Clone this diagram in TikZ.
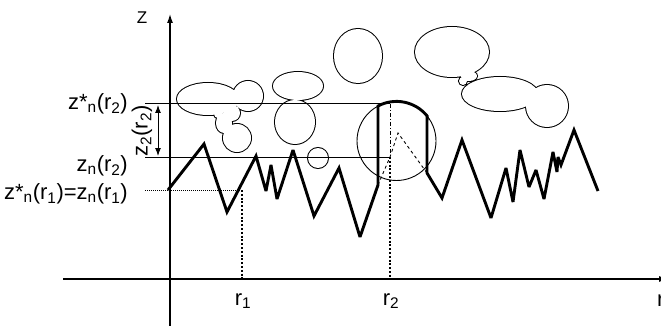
\documentclass[tikz,border=0pt]{standalone}
\usepackage{fontspec}
\setmainfont{Liberation Sans}
\usetikzlibrary{arrows.meta}

\begin{document}
\begin{tikzpicture}[x=1pt,y=-1pt,
  lbl/.style={font=\fontsize{22}{24}\selectfont,inner sep=0pt},
  level/.style={line width=1pt},
  rough/.style={line width=2.9pt,line join=miter,miter limit=3},
  drop/.style={line width=2.6pt,dash pattern=on 2pt off 1.8pt}]
\useasboundingbox (0,0) rectangle (661,326);

% particles: outline of the union, then white inside
\def\blobs{(208,99) ellipse [x radius=31,y radius=16]
  (248,96) circle [radius=15]
  (237,138) circle [radius=14]
  (224,123) ellipse [x radius=8,y radius=10]
  (218,114) circle [radius=4]
  (232,113) circle [radius=8]
  (298,86) ellipse [x radius=25,y radius=14]
  (295,122) ellipse [x radius=20,y radius=22]
  (318,158) circle [radius=10]
  (358,56) ellipse [x radius=24,y radius=27]
  (452,52) ellipse [x radius=37,y radius=25]
  (500,94) ellipse [x radius=38,y radius=17]
  (547,106) circle [radius=21]
  (469,76) ellipse [x radius=8,y radius=5]
  (463,81) circle [radius=4]}
\draw[line width=2pt] \blobs;
\fill[white] \blobs;

% axes
\draw[line width=1.2pt,-{Latex[length=9pt,width=6pt]}] (170,326) -- (170,14);
\draw[line width=1.2pt,-{Latex[length=9pt,width=6pt]}] (63,279) -- (668,279);
\node (zaxis) at (142,18) {\fontsize{17}{19}\selectfont Z};
\node[lbl,anchor=west] (raxis) at (657,301) {r};

% levels
\coordinate (top) at (390,104);
\coordinate (mid) at (390,157);
\coordinate (low) at (242,190);
\coordinate (r1foot) at (242,279);
\coordinate (r2foot) at (390,279);
\draw[level] (145,104) -- (top);
\draw[level] (145,157) -- (mid);
\draw[level,densely dotted] (145,190) -- (low);
\draw[{Latex[length=8pt,width=6pt]}-{Latex[length=8pt,width=6pt]},line width=1pt] (158,105) -- (158,156);

\node[lbl,anchor=east] (zstar2) at (128,104) {z*\textsubscript{n}(r\textsubscript{2})};
\node[lbl,anchor=east] (zn2) at (128,166) {z\textsubscript{n}(r\textsubscript{2})};
\node[lbl,anchor=east] (zstar1) at (128,194) {z*\textsubscript{n}(r\textsubscript{1})=z\textsubscript{n}(r\textsubscript{1})};
\node[lbl,rotate=90] (dz) at (142,131) {z\textsubscript{2}(r\textsubscript{2})};
\node[lbl] (r1) at (243,301) {r\textsubscript{1}};
\node[lbl] (r2) at (391,301) {r\textsubscript{2}};

% probe sphere at r2
\draw[line width=0.9pt] (396.5,141) circle [radius=39.5];
\draw[line width=0.8pt,dash pattern=on 4pt off 2pt on 1pt off 2pt] (top) -- (mid);
\draw[line width=0.9pt,dashed] (378,185) -- (mid) -- (398,133) -- (427,173);

% surface profile
\draw[rough] (168,190) -- (204,144) -- (227,212) -- (256,156) -- (266,191)
  -- (271,165) -- (277,199) -- (293,150) -- (314,216) -- (339,168)
  -- (360,237) -- (378,185) -- (378,106)
  arc [start angle=-117.9,end angle=-39.3,radius=39.5]
  -- (427,173) -- (442,198) -- (462,140) -- (491,218) -- (506,168)
  -- (513,202) -- (520,150) -- (529,187) -- (536,170) -- (544,199)
  -- (553,152) -- (557,172) -- (558,157) -- (561,165) -- (574,130) -- (598,191);

% r1 and r2
\draw[drop] (low) -- (r1foot);
\draw[drop] (mid) -- (r2foot);
\end{tikzpicture}
\end{document}
